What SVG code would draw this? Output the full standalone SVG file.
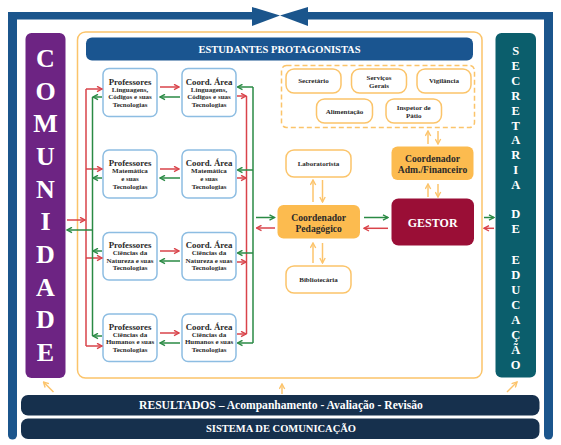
<svg xmlns="http://www.w3.org/2000/svg" width="561" height="445" viewBox="0 0 561 445">
<style>
.pbox{fill:#fff;stroke:#8dbde2;stroke-width:1.5}
.obox{fill:#fff;stroke:#fbc46a;stroke-width:1.5}
.ofill{fill:#fcbb4f}
.t{font-family:"Liberation Serif",serif;font-weight:bold;fill:#2a2a2a;text-anchor:middle}
.w{font-family:"Liberation Serif",serif;font-weight:bold;fill:#fff;text-anchor:middle}
.h{font-size:8.8px}
.s{font-size:7px}
.r{stroke:#d9434a;stroke-width:1.5;fill:none}
.g{stroke:#2a8a44;stroke-width:1.5;fill:none}
.o{stroke:#fcc46c;stroke-width:1.5;fill:none}
.cl{font-size:26px}
.sl{font-size:12.5px}
</style>
<defs>
<marker id="mr" viewBox="0 0 7 7" refX="6" refY="3.5" markerWidth="7" markerHeight="7" markerUnits="userSpaceOnUse" orient="auto"><path d="M1,0.8 L6,3.5 L1,6.2" fill="none" stroke="#d9434a" stroke-width="1.4"/></marker>
<marker id="mg" viewBox="0 0 7 7" refX="6" refY="3.5" markerWidth="7" markerHeight="7" markerUnits="userSpaceOnUse" orient="auto"><path d="M1,0.8 L6,3.5 L1,6.2" fill="none" stroke="#2a8a44" stroke-width="1.4"/></marker>
<marker id="mo" viewBox="0 0 7 7" refX="6" refY="3.5" markerWidth="7" markerHeight="7" markerUnits="userSpaceOnUse" orient="auto"><path d="M1,0.8 L6,3.5 L1,6.2" fill="none" stroke="#fcc46c" stroke-width="1.4"/></marker>
</defs>

<!-- outer frame -->
<g id="frame">
<rect x="8" y="12" width="244" height="7.5" fill="#1b558c"/>
<rect x="308" y="12" width="245" height="7.5" fill="#1b558c"/>
<path d="M8,12 H17 V435 a4.5,4.5 0 0 1 -9,0 Z" fill="#1b558c"/>
<path d="M544,12 H553 V435 a4.5,4.5 0 0 1 -9,0 Z" fill="#1b558c"/>
<polygon points="252,7 252,26 280,15.5" fill="#1b558c"/>
<polygon points="308,7 308,26 280,15.5" fill="#1b558c"/>
<rect x="77.5" y="32" width="404.5" height="346" rx="8" fill="none" stroke="#fbc46a" stroke-width="1.5"/>
</g>

<g id="comunidade">
<rect x="25.5" y="33" width="40" height="345" rx="6" fill="#6d2483"/>
<text class="w cl" x="45.5" y="67">C</text>
<text class="w cl" x="45.5" y="99.7">O</text>
<text class="w cl" x="45.5" y="132.3">M</text>
<text class="w cl" x="45.5" y="165">U</text>
<text class="w cl" x="45.5" y="197.7">N</text>
<text class="w cl" x="45.5" y="230.3">I</text>
<text class="w cl" x="45.5" y="263">D</text>
<text class="w cl" x="45.5" y="295.7">A</text>
<text class="w cl" x="45.5" y="328.3">D</text>
<text class="w cl" x="45.5" y="361">E</text>
</g>

<g id="secretaria">
<rect x="495.5" y="33" width="40.5" height="344.5" rx="6" fill="#0b5e6c"/>
<text class="w sl" x="515.7" y="55">S</text>
<text class="w sl" x="515.7" y="69.9">E</text>
<text class="w sl" x="515.7" y="84.8">C</text>
<text class="w sl" x="515.7" y="99.7">R</text>
<text class="w sl" x="515.7" y="114.6">E</text>
<text class="w sl" x="515.7" y="129.5">T</text>
<text class="w sl" x="515.7" y="144.4">A</text>
<text class="w sl" x="515.7" y="159.3">R</text>
<text class="w sl" x="515.7" y="174.3">I</text>
<text class="w sl" x="515.7" y="189.3">A</text>
<text class="w sl" x="515.7" y="217.6">D</text>
<text class="w sl" x="515.7" y="233.3">E</text>
<text class="w sl" x="515.7" y="263.6">E</text>
<text class="w sl" x="515.7" y="278.7">D</text>
<text class="w sl" x="515.7" y="293.8">U</text>
<text class="w sl" x="515.7" y="308.9">C</text>
<text class="w sl" x="515.7" y="324">A</text>
<text class="w sl" x="515.7" y="339.1">Ç</text>
<text class="w sl" x="515.7" y="354.3">Ã</text>
<text class="w sl" x="515.7" y="369.3">O</text>
</g>

<g id="estudantes">
<rect x="86" y="37.5" width="387" height="23" rx="6" fill="#1a5590"/>
<text class="w" x="279.5" y="52.8" font-size="10.5">ESTUDANTES PROTAGONISTAS</text>
</g>

<!-- professores -->
<g id="prof1"><rect class="pbox" x="103" y="68.5" width="54" height="48" rx="6"/>
<text class="t h" x="130" y="84.5">Professores</text><text class="t s" x="130" y="91.7">Linguagens,</text><text class="t s" x="130" y="99.2">Códigos e suas</text><text class="t s" x="130" y="106.7">Tecnologias</text></g>
<g id="coord1"><rect class="pbox" x="182" y="68.5" width="54" height="48" rx="6"/>
<text class="t h" x="209" y="84.5">Coord. Área</text><text class="t s" x="209" y="91.7">Linguagens,</text><text class="t s" x="209" y="99.2">Códigos e suas</text><text class="t s" x="209" y="106.7">Tecnologias</text></g>

<g id="prof2"><rect class="pbox" x="103" y="150" width="54" height="48" rx="6"/>
<text class="t h" x="130" y="166">Professores</text><text class="t s" x="130" y="173.4">Matemática</text><text class="t s" x="130" y="181.4">e suas</text><text class="t s" x="130" y="189.2">Tecnologias</text></g>
<g id="coord2"><rect class="pbox" x="182" y="150" width="54" height="48" rx="6"/>
<text class="t h" x="209" y="166">Coord. Área</text><text class="t s" x="209" y="173.4">Matemática</text><text class="t s" x="209" y="181.4">e suas</text><text class="t s" x="209" y="189.2">Tecnologias</text></g>

<g id="prof3"><rect class="pbox" x="103" y="232.5" width="54" height="47.5" rx="6"/>
<text class="t h" x="130" y="247.8">Professores</text><text class="t s" x="130" y="255.2">Ciências da</text><text class="t s" x="130" y="262.7">Natureza e suas</text><text class="t s" x="130" y="270.4">Tecnologias</text></g>
<g id="coord3"><rect class="pbox" x="182" y="232.5" width="54" height="47.5" rx="6"/>
<text class="t h" x="209" y="247.8">Coord. Área</text><text class="t s" x="209" y="255.2">Ciências da</text><text class="t s" x="209" y="262.7">Natureza e suas</text><text class="t s" x="209" y="270.4">Tecnologias</text></g>

<g id="prof4"><rect class="pbox" x="103" y="314" width="54" height="47.5" rx="6"/>
<text class="t h" x="130" y="329.5">Professores</text><text class="t s" x="130" y="336.7">Ciências da</text><text class="t s" x="130" y="344.4">Humanos e suas</text><text class="t s" x="130" y="352.4">Tecnologias</text></g>
<g id="coord4"><rect class="pbox" x="182" y="314" width="54" height="47.5" rx="6"/>
<text class="t h" x="209" y="329.5">Coord. Área</text><text class="t s" x="209" y="336.7">Ciências da</text><text class="t s" x="209" y="344.4">Humanos e suas</text><text class="t s" x="209" y="352.4">Tecnologias</text></g>

<!-- staff -->
<g id="apoio">
<rect x="281.5" y="65.5" width="193" height="62" rx="5" fill="none" stroke="#fbc46a" stroke-width="1.5" stroke-dasharray="5 3"/>
</g>
<g id="secretario"><rect class="obox" x="286" y="69" width="55" height="24" rx="8"/><text class="t s" x="313.5" y="83.4">Secretário</text></g>
<g id="servicos"><rect class="obox" x="351.5" y="69" width="55" height="24" rx="8"/><text class="t s" x="379" y="80">Serviços</text><text class="t s" x="379" y="87.5">Gerais</text></g>
<g id="vigilancia"><rect class="obox" x="417" y="69" width="54" height="24" rx="8"/><text class="t s" x="444" y="83.4">Vigilância</text></g>
<g id="alimentacao"><rect class="obox" x="316.5" y="99" width="56" height="24" rx="8"/><text class="t s" x="344.5" y="114">Alimentação</text></g>
<g id="inspetor"><rect class="obox" x="386" y="99" width="55.5" height="24" rx="8"/><text class="t s" x="413.7" y="110">Inspetor de</text><text class="t s" x="413.7" y="118">Pátio</text></g>

<g id="laboratorista"><rect class="obox" x="286" y="150" width="65" height="27" rx="8"/><text class="t s" x="318.5" y="165.6">Laboratorista</text></g>
<g id="bibliotecaria"><rect class="obox" x="286" y="266" width="65" height="27" rx="8"/><text class="t s" x="318.5" y="282.3">Bibliotecária</text></g>

<g id="pedagogico"><rect class="ofill" x="277.5" y="205" width="82.5" height="33.5" rx="6"/>
<text class="t" x="318.7" y="220.5" font-size="9.6">Coordenador</text><text class="t" x="318.7" y="231.5" font-size="9.6">Pedagógico</text></g>
<g id="financeiro"><rect class="ofill" x="391.5" y="146.5" width="82" height="33.5" rx="6"/>
<text class="t" x="432.5" y="162.2" font-size="9.6">Coordenador</text><text class="t" x="432.5" y="172.5" font-size="9.6">Adm./Financeiro</text></g>
<g id="gestor"><rect x="391.5" y="198.5" width="82.5" height="47" rx="7" fill="#9a0e36"/>
<text class="w" x="432.7" y="226.8" font-size="12">GESTOR</text></g>

<g id="resultados"><rect x="21" y="395" width="518.5" height="20.5" rx="7" fill="#16304d"/>
<text class="w" x="281" y="409" font-size="11.6">RESULTADOS – Acompanhamento - Avaliação - Revisão</text></g>
<g id="sistema"><rect x="21" y="418.5" width="518.5" height="20.5" rx="7" fill="#16304d"/>
<text class="w" x="281" y="432.4" font-size="10.5">SISTEMA DE COMUNICAÇÃO</text></g>

<g id="connectors">
<!-- left red bus -->
<path class="r" d="M86,89 V346"/>
<path class="r" d="M86,89 H102" marker-end="url(#mr)"/>
<path class="r" d="M86,169 H102" marker-end="url(#mr)"/>
<path class="r" d="M86,258 H102" marker-end="url(#mr)"/>
<path class="r" d="M86,346 H102" marker-end="url(#mr)"/>
<path class="r" d="M67,220 H85" marker-end="url(#mr)"/>
<!-- left green bus -->
<path class="g" d="M92.5,97 V336"/>
<path class="g" d="M102,97 H93" marker-end="url(#mg)"/>
<path class="g" d="M102,178 H93" marker-end="url(#mg)"/>
<path class="g" d="M102,251 H93" marker-end="url(#mg)"/>
<path class="g" d="M102,336 H93" marker-end="url(#mg)"/>
<path class="g" d="M92.5,230 H67" marker-end="url(#mg)"/>
<!-- prof <-> coord -->
<path class="r" d="M160,87 H179" marker-end="url(#mr)"/>
<path class="g" d="M180,97 H160" marker-end="url(#mg)"/>
<path class="r" d="M160,169 H179" marker-end="url(#mr)"/>
<path class="g" d="M180,178 H160" marker-end="url(#mg)"/>
<path class="r" d="M160,251 H179" marker-end="url(#mr)"/>
<path class="g" d="M180,261 H160" marker-end="url(#mg)"/>
<path class="r" d="M160,333 H179" marker-end="url(#mr)"/>
<path class="g" d="M180,343 H160" marker-end="url(#mg)"/>
<!-- right red bus -->
<path class="r" d="M246.5,96 V334"/>
<path class="r" d="M237,96 H246" marker-end="url(#mr)"/>
<path class="r" d="M237,178 H246" marker-end="url(#mr)"/>
<path class="r" d="M237,262 H246" marker-end="url(#mr)"/>
<path class="r" d="M237,334 H246" marker-end="url(#mr)"/>
<!-- right green bus -->
<path class="g" d="M253,87 V343"/>
<path class="g" d="M253,87 H237.5" marker-end="url(#mg)"/>
<path class="g" d="M253,170 H237.5" marker-end="url(#mg)"/>
<path class="g" d="M253,253 H237.5" marker-end="url(#mg)"/>
<path class="g" d="M253,343 H237.5" marker-end="url(#mg)"/>
<!-- to pedagogico -->
<path class="g" d="M256,217.5 H274.5" marker-end="url(#mg)"/>
<path class="r" d="M275,228 H256.5" marker-end="url(#mr)"/>
<!-- pedagogico <-> gestor -->
<path class="g" d="M364,217.5 H388" marker-end="url(#mg)"/>
<path class="r" d="M388,228.3 H364" marker-end="url(#mr)"/>
<!-- gestor <-> secretaria -->
<path class="g" d="M484,217.5 H494" marker-end="url(#mg)"/>
<path class="r" d="M494,228.3 H484" marker-end="url(#mr)"/>
<!-- orange arrows -->
<path class="o" d="M313,202 V180" marker-end="url(#mo)"/>
<path class="o" d="M322.5,180 V202" marker-end="url(#mo)"/>
<path class="o" d="M313,263 V243" marker-end="url(#mo)"/>
<path class="o" d="M322.5,243 V263" marker-end="url(#mo)"/>
<path class="o" d="M428,197 V184" marker-end="url(#mo)"/>
<path class="o" d="M438,184 V197" marker-end="url(#mo)"/>
<path class="o" d="M428,144 V131" marker-end="url(#mo)"/>
<path class="o" d="M438,131 V144" marker-end="url(#mo)"/>
<path class="o" d="M53.5,392 L43.5,382" marker-end="url(#mo)"/>
<path class="o" d="M282,394 V384" marker-end="url(#mo)"/>
<path class="o" d="M507,392 L517,382" marker-end="url(#mo)"/>
</g>
</svg>
